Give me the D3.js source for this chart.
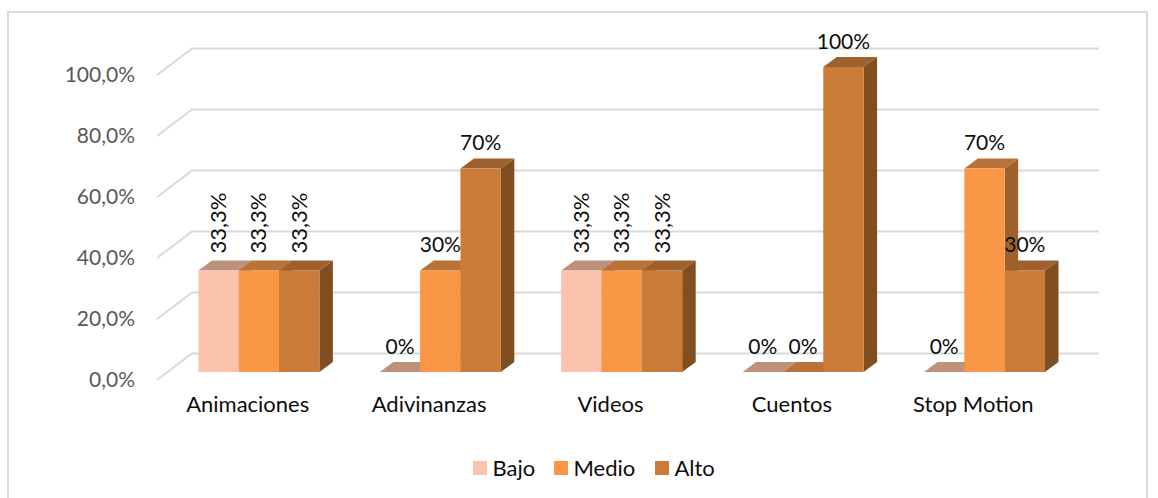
<!DOCTYPE html>
<html>
<head>
<meta charset="utf-8">
<script src="https://cdn.jsdelivr.net/npm/d3@7"></script>
<style>
  html, body { margin: 0; padding: 0; background: #fff; }
  svg { display: block; }
  text { font-family: Lato, "Open Sans", sans-serif; }
</style>
</head>
<body>
<div id="chart"></div>
<script>
const categories = ["Animaciones", "Adivinanzas", "Videos", "Cuentos", "Stop Motion"];
const series = ["Bajo", "Medio", "Alto"];
// heights as drawn in the picture
const bajo = [33.3, 0, 33.3, 0, 0];
const medio = [33.3, 33.3, 33.3, 0, 66.7];
const alto = [33.3, 66.7, 33.3, 100, 33.3];
// labels as printed, they differ from the bar heights in places
const bajoLabels = ["33,3%", "0%", "33,3%", "0%", "0%"];
const medioLabels = ["33,3%", "30%", "33,3%", "0%", "70%"];
const altoLabels = ["33,3%", "70%", "33,3%", "100%", "30%"];
const ticks = [0, 20, 40, 60, 80, 100];

const frontColors = ["#fbc3ab", "#fa9747", "#cb7c38"];
const topColors = ["#be917c", "#b97237", "#9e602c"];
const sideColors = ["#a0705c", "#9e602c", "#804e20"];

const width = 1158, height = 498;
const svg = d3.select("#chart").append("svg")
    .attr("width", width)
    .attr("height", height);

// chart frame
svg.append("rect")
    .attr("x", 8).attr("y", 12)
    .attr("width", 1139).attr("height", 490)
    .attr("fill", "none")
    .attr("stroke", "#d9d9d9")
    .attr("stroke-width", 2);

// 3d offsets: wall is behind the floor front edge, bars stand mid floor
const wall = {dx: 35, dy: -26.5};
const barDepth = {dx: 13.5, dy: -10};
const barShift = {dx: 11.2, dy: -8};

const x = d3.scaleBand().domain(categories).range([157, 1064]);
const xBar = d3.scaleBand().domain(series).range([30.2, x.bandwidth() - 30.2]);
const floorY = d3.scaleLinear().domain([0, 100]).range([380, 75]);
const y = d3.scaleLinear().domain([0, 100]).range([380 + barShift.dy, 75 + barShift.dy]);

// gridlines, slant on the side wall + line on the back wall
svg.append("g").selectAll("path")
    .data(ticks)
    .enter()
    .append("path")
        .attr("d", function(d) {
            const p = d3.path();
            p.moveTo(157, floorY(d));
            p.lineTo(157 + wall.dx, floorY(d) + wall.dy);
            p.lineTo(1064 + wall.dx, floorY(d) + wall.dy);
            return p.toString();
        })
        .attr("fill", "none")
        .attr("stroke", "#d9d9d9")
        .attr("stroke-width", 2);

// Y axis
const yAxis = svg.append("g")
    .attr("transform", "translate(141,0)")
    .call(d3.axisLeft(floorY).tickValues(ticks).tickSize(0).tickPadding(6)
        .tickFormat(d => d3.format(".1f")(d).replace(".", ",") + "%"));
yAxis.select(".domain").remove();
yAxis.selectAll("text")
    .attr("fill", "#595959")
    .style("font-family", "Lato, 'Open Sans', sans-serif")
    .style("font-size", "21px");

// X axis
const xAxis = svg.append("g")
    .attr("transform", "translate(0,396)")
    .call(d3.axisBottom(x).tickSize(0).tickPadding(0));
xAxis.select(".domain").remove();
xAxis.selectAll("text")
    .attr("fill", "#0d0d0d")
    .style("font-family", "Lato, 'Open Sans', sans-serif")
    .style("font-size", "22px");

// Bars, left to right so the later ones overlap the earlier sides
const rows = [];
categories.forEach(function(c, i) {
    [bajo, medio, alto].forEach(function(vals, s) {
        rows.push({cat: c, name: series[s], s: s, value: vals[i],
            label: [bajoLabels, medioLabels, altoLabels][s][i]});
    });
});

const barX = d => x(d.cat) + xBar(d.name) + barShift.dx;
const w = xBar.bandwidth();

const bars = svg.append("g").selectAll("g")
    .data(rows)
    .enter()
    .append("g");

bars.append("path")
    .attr("fill", d => sideColors[d.s])
    .attr("d", function(d) {
        const bx = barX(d) + w, t = y(d.value), b = y(0);
        return `M${bx},${b}L${bx},${t}L${bx + barDepth.dx},${t + barDepth.dy}L${bx + barDepth.dx},${b + barDepth.dy}Z`;
    });
bars.append("path")
    .attr("fill", d => topColors[d.s])
    .attr("d", function(d) {
        const bx = barX(d), t = y(d.value);
        return `M${bx},${t}L${bx + w},${t}L${bx + w + barDepth.dx},${t + barDepth.dy}L${bx + barDepth.dx},${t + barDepth.dy}Z`;
    });
bars.append("rect")
    .attr("x", barX)
    .attr("y", d => y(d.value))
    .attr("width", w)
    .attr("height", d => y(0) - y(d.value))
    .attr("fill", d => frontColors[d.s]);

// Data labels
svg.append("g").selectAll("text")
    .data(rows)
    .enter()
    .append("text")
        .text(d => d.label)
        .attr("fill", "#0d0d0d")
        .style("font-size", d => d.label.includes(",") ? "22px" : "21px")
        .attr("text-anchor", d => d.label.includes(",") ? "start" : "middle")
        .attr("transform", function(d) {
            const cx = barX(d) + w / 2;
            if (d.label.includes(",")) {
                return `translate(${cx + 7.5},${y(d.value) - 17})rotate(-90)`;
            }
            return `translate(${cx},${y(d.value) - 18.5})`;
        });

// Legend
const legendX = d3.scaleOrdinal().domain(series).range([473, 554, 655]);
const legend = svg.append("g").selectAll("g")
    .data(series)
    .enter()
    .append("g")
        .attr("transform", d => `translate(${legendX(d)},461)`);
legend.append("rect")
    .attr("width", 14)
    .attr("height", 14)
    .attr("fill", (d, i) => frontColors[i]);
legend.append("text")
    .attr("x", 19.5)
    .attr("y", 14.5)
    .attr("fill", "#0d0d0d")
    .style("font-size", "22px")
    .text(d => d);
</script>
</body>
</html>
